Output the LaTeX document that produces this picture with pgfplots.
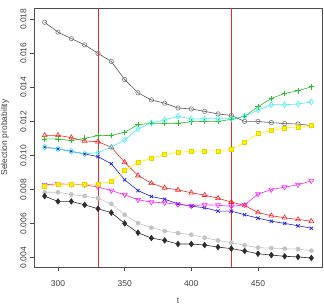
\documentclass[border=0pt]{standalone}
\usepackage{pgfplots}
\pgfplotsset{compat=1.18}
\usepackage{pgfplotstable}
\usepackage{fontspec}
\setmainfont{Liberation Sans}

\definecolor{rgreen}{RGB}{40,190,40}
\definecolor{rcyan}{RGB}{70,238,238}
\definecolor{rblue}{RGB}{30,30,230}
\definecolor{rred}{RGB}{240,40,40}
\definecolor{rmag}{RGB}{245,40,245}
\definecolor{ryellow}{RGB}{255,240,0}
\definecolor{rgray}{RGB}{195,195,195}
\definecolor{rdark}{RGB}{45,45,45}
\definecolor{rcirc}{RGB}{70,70,70}

% selection probability of each individual over time
\pgfplotstableread{
t    circ     tri      plus     cross    diam     dtri     sq       ast      dplus
290  0.01782  0.01118  0.01097  0.01048  0.01048  0.00828  0.00819  0.00784  0.00761
300  0.01724  0.01118  0.01097  0.01039  0.01039  0.00833  0.00828  0.00784  0.00730
310  0.01686  0.01105  0.01087  0.01024  0.01024  0.00831  0.00828  0.00771  0.00730
320  0.01650  0.01085  0.01101  0.01009  0.01009  0.00828  0.00828  0.00761  0.00710
330  0.01599  0.01081  0.01116  0.00993  0.01017  0.00814  0.00833  0.00749  0.00687
340  0.01552  0.01048  0.01118  0.00951  0.01048  0.00794  0.00847  0.00716  0.00664
350  0.01446  0.00960  0.01136  0.00857  0.01091  0.00769  0.00911  0.00652  0.00601
360  0.01368  0.00882  0.01181  0.00794  0.01156  0.00740  0.00960  0.00603  0.00546
370  0.01326  0.00837  0.01189  0.00759  0.01191  0.00726  0.00983  0.00576  0.00515
380  0.01307  0.00810  0.01189  0.00743  0.01209  0.00722  0.01005  0.00556  0.00501
390  0.01279  0.00798  0.01189  0.00716  0.01230  0.00712  0.01019  0.00544  0.00480
400  0.01273  0.00781  0.01198  0.00702  0.01214  0.00705  0.01024  0.00535  0.00480
410  0.01259  0.00767  0.01200  0.00693  0.01216  0.00710  0.01027  0.00517  0.00474
420  0.01244  0.00749  0.01200  0.00673  0.01216  0.00708  0.01027  0.00501  0.00462
430  0.01235  0.00726  0.01212  0.00673  0.01216  0.00701  0.01036  0.00488  0.00453
440  0.01200  0.00706  0.01230  0.00652  0.01230  0.00710  0.01077  0.00472  0.00439
450  0.01200  0.00665  0.01286  0.00632  0.01267  0.00773  0.01128  0.00459  0.00423
460  0.01193  0.00646  0.01335  0.00614  0.01298  0.00800  0.01146  0.00456  0.00415
470  0.01187  0.00634  0.01364  0.00601  0.01298  0.00814  0.01162  0.00453  0.00408
480  0.01185  0.00624  0.01380  0.00587  0.01302  0.00828  0.01167  0.00450  0.00404
490  0.01175  0.00614  0.01403  0.00573  0.01314  0.00851  0.01175  0.00441  0.00398
}\selprob

\begin{document}
\begin{tikzpicture}
\begin{axis}[
  scale only axis,
  width=288pt, height=259pt,
  at={(0,0)}, anchor=south west,
  xmin=282, xmax=498,
  ymin=0.00345, ymax=0.01866,
  xtick={300,350,400,450},
  ytick={0.004,0.006,0.008,0.010,0.012,0.014,0.016,0.018},
  tick align=outside,
  tick pos=left,
  major tick length=4pt,
  axis line style={draw=black!70, line width=0.6pt},
  every tick/.style={black!70, line width=0.6pt},
  tick label style={font=\fontsize{8.5}{10}\selectfont, text=black!75},
  /pgf/number format/assume math mode=true,
  xticklabel style={yshift=-6pt},
  yticklabel style={/pgf/number format/.cd, fixed, fixed zerofill, precision=3, /tikz/.cd, rotate=90, anchor=south},
  scaled y ticks=false,
  xlabel={t},
  ylabel={Selection probability},
  label style={font=\fontsize{8.5}{10}\selectfont, text=black!75},
  xlabel style={at={(axis description cs:0.5,0)}, anchor=center, yshift=-34pt},
  ylabel style={at={(axis description cs:0,0.5)}, anchor=center, yshift=29pt},
  clip=false,
  every axis plot/.append style={line width=0.6pt},
]
% change points
\addplot[rred, line width=0.7pt, mark=none] coordinates {(330,0.00345) (330,0.01866)};
\addplot[rred, line width=0.7pt, mark=none] coordinates {(430,0.00345) (430,0.01866)};
\addplot[rdark!80, mark=o, mark size=2.2pt, mark options={draw=rcirc!70, line width=0.6pt}] table[x=t, y=circ] {\selprob};
\addplot[rred, mark=triangle, mark size=2.8pt, mark options={line width=0.6pt}] table[x=t, y=tri] {\selprob};
\addplot[rgreen, mark=+, mark size=2.8pt, mark options={line width=0.7pt}] table[x=t, y=plus] {\selprob};
\addplot[rblue, mark=x, mark size=2.3pt, mark options={line width=0.7pt}] table[x=t, y=cross] {\selprob};
\addplot[rcyan, mark=diamond, mark size=2.8pt, mark options={line width=0.6pt}] table[x=t, y=diam] {\selprob};
\addplot[rmag, mark=triangle, mark size=2.8pt, mark options={rotate=180, line width=0.6pt}] table[x=t, y=dtri] {\selprob};
\addplot[ryellow, mark=square*, mark size=2pt, mark options={fill=ryellow, draw=ryellow!90!black}] table[x=t, y=sq] {\selprob};
\addplot[rgray, mark=*, mark size=2pt, mark options={fill=rgray, draw=rgray}] table[x=t, y=ast] {\selprob};
\addplot[rdark, mark=diamond*, mark size=2.8pt, mark options={fill=rdark, draw=rdark}] table[x=t, y=dplus] {\selprob};
\end{axis}
\pgfresetboundingbox
\useasboundingbox (-34pt,-38pt) rectangle (290pt,267pt);
\end{tikzpicture}
\end{document}
